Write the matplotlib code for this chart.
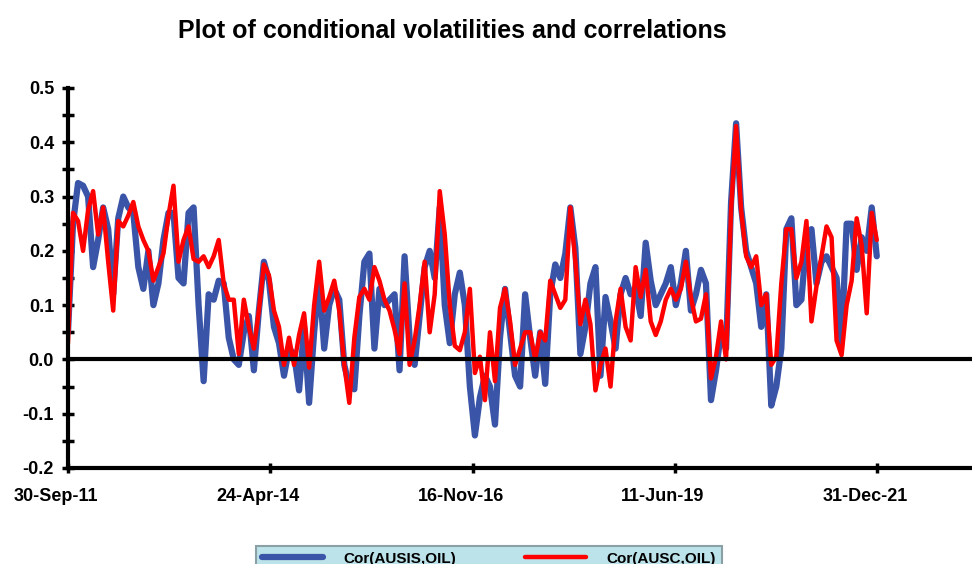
import numpy as np
import pandas as pd
import matplotlib
matplotlib.use("Agg")
import matplotlib.pyplot as plt
import matplotlib.dates as mdates
import matplotlib.transforms as mtransforms
from matplotlib.ticker import MultipleLocator

# series, evenly spaced in time from 30-Sep-11 to 31-Dec-21
cor_ausis = [
    0.05, 0.25, 0.325, 0.32, 0.30, 0.17, 0.22, 0.28, 0.24, 0.12,
    0.26, 0.30, 0.28, 0.27, 0.17, 0.13, 0.20, 0.10, 0.14, 0.22,
    0.27, 0.27, 0.15, 0.14, 0.27, 0.28, 0.10, -0.04, 0.12, 0.11,
    0.145, 0.14, 0.04, 0.00, -0.01, 0.05, 0.08, -0.02, 0.09, 0.18,
    0.145, 0.06, 0.03, -0.03, 0.02, 0.01, -0.057, 0.06, -0.08, 0.05,
    0.15, 0.02, 0.10, 0.13, 0.11, -0.01, -0.05, -0.055, 0.08, 0.18,
    0.195, 0.02, 0.13, 0.10, 0.11, 0.12, -0.02, 0.19, 0.04, -0.01,
    0.08, 0.17, 0.20, 0.15, 0.28, 0.10, 0.03, 0.12, 0.16, 0.10,
    -0.05, -0.14, -0.07, -0.03, -0.05, -0.12, 0.04, 0.13, 0.05, -0.03,
    -0.05, 0.12, 0.04, -0.03, 0.05, -0.045, 0.12, 0.175, 0.15, 0.195,
    0.28, 0.205, 0.01, 0.06, 0.14, 0.17, -0.03, 0.115, 0.07, 0.02,
    0.12, 0.15, 0.12, 0.13, 0.08, 0.215, 0.145, 0.10, 0.12, 0.14,
    0.17, 0.10, 0.14, 0.20, 0.09, 0.12, 0.165, 0.14, -0.075, -0.02,
    0.05, 0.02, 0.29, 0.435, 0.28, 0.20, 0.17, 0.14, 0.06, 0.12,
    -0.085, -0.05, 0.02, 0.24, 0.26, 0.10, 0.11, 0.22, 0.24, 0.14,
    0.18, 0.19, 0.17, 0.15, 0.03, 0.25, 0.25, 0.165, 0.225, 0.20,
    0.28, 0.19,
]
cor_ausc = [
    0.03, 0.27, 0.255, 0.20, 0.275, 0.31, 0.23, 0.28, 0.18, 0.09,
    0.255, 0.245, 0.265, 0.29, 0.245, 0.22, 0.20, 0.145, 0.17, 0.195,
    0.265, 0.32, 0.18, 0.22, 0.245, 0.185, 0.18, 0.19, 0.17, 0.19,
    0.22, 0.14, 0.11, 0.11, 0.01, 0.11, 0.06, 0.02, 0.09, 0.175,
    0.155, 0.09, 0.06, -0.01, 0.04, -0.01, 0.045, 0.085, -0.015, 0.10,
    0.18, 0.09, 0.115, 0.145, 0.09, -0.01, -0.08, 0.04, 0.115, 0.13,
    0.11, 0.17, 0.145, 0.11, 0.09, 0.055, 0.01, 0.14, -0.01, 0.035,
    0.10, 0.18, 0.05, 0.12, 0.31, 0.23, 0.10, 0.025, 0.017, 0.05,
    0.13, -0.025, 0.005, -0.075, 0.05, -0.04, 0.095, 0.13, 0.07, -0.01,
    0.02, 0.05, 0.05, 0.0, 0.05, 0.035, 0.145, 0.12, 0.095, 0.11,
    0.28, 0.18, 0.065, 0.11, 0.065, -0.057, -0.01, 0.02, -0.05, 0.07,
    0.13, 0.06, 0.035, 0.17, 0.115, 0.165, 0.07, 0.045, 0.07, 0.11,
    0.13, 0.11, 0.13, 0.18, 0.115, 0.07, 0.075, 0.12, -0.035, 0.005,
    0.07, 0.0, 0.275, 0.43, 0.275, 0.19, 0.17, 0.19, 0.10, 0.12,
    -0.01, 0.005, 0.14, 0.24, 0.24, 0.15, 0.18, 0.255, 0.07, 0.135,
    0.19, 0.245, 0.225, 0.035, 0.008, 0.10, 0.145, 0.26, 0.21, 0.085,
    0.27, 0.22,
]
tick_dates = ["2011-09-30", "2014-04-24", "2016-11-16", "2019-06-11", "2021-12-31"]
labels = ["Cor(AUSIS,OIL)", "Cor(AUSC,OIL)"]

start = pd.Timestamp("2011-09-30")
end = pd.Timestamp("2021-12-31")
d1 = pd.date_range(start, end, periods=len(cor_ausis))
d2 = pd.date_range(start, end, periods=len(cor_ausc))

plt.rcParams["font.family"] = ["Liberation Sans", "DejaVu Sans"]
plt.rcParams["font.weight"] = "bold"

fig = plt.figure(figsize=(9.72, 5.64), dpi=100)
ax = fig.add_axes([68 / 972, 1 - 468 / 564, 904 / 972, 380 / 564])

l1, = ax.plot(d1, cor_ausis, color="#3a55a8", lw=4.5, solid_capstyle="round",
              solid_joinstyle="round", label=labels[0])
l2, = ax.plot(d2, cor_ausc, color="#ff0000", lw=3.2, solid_capstyle="round",
              solid_joinstyle="round", label=labels[1])
ax.axhline(0, color="black", lw=3, zorder=5)

ax.set_ylim(-0.2, 0.5)
ax.set_xlim(start, start + pd.Timedelta(days=4186))
ax.yaxis.set_major_locator(MultipleLocator(0.1))
ax.yaxis.set_minor_locator(MultipleLocator(0.05))
ax.yaxis.set_major_formatter(matplotlib.ticker.FormatStrFormatter("%.1f"))
ax.set_xticks(pd.to_datetime(tick_dates))
ax.xaxis.set_major_formatter(mdates.DateFormatter("%d-%b-%y"))

for s in ["top", "right"]:
    ax.spines[s].set_visible(False)
for s in ["left", "bottom"]:
    ax.spines[s].set_linewidth(3)
ax.tick_params(axis="y", which="both", direction="inout", length=8, width=2.5,
               labelsize=13, pad=6)
ax.tick_params(axis="x", which="major", direction="inout", length=7, width=2.5,
               labelsize=13, pad=11)

# date labels sit a little left of their ticks in the original
shift = mtransforms.ScaledTranslation(-12 / 100, 0, fig.dpi_scale_trans)
for lab in ax.get_xticklabels():
    lab.set_transform(lab.get_transform() + shift)

fig.text(0.465, 0.945, "Plot of conditional volatilities and correlations",
         ha="center", va="center", fontsize=18, fontweight="bold",
         family=["Liberation Sans Narrow", "Liberation Sans"])

leg = fig.legend(handles=[l1, l2], loc="upper left",
                 bbox_to_anchor=(248 / 972, 1 - 538 / 564), ncol=2,
                 handlelength=4.0, handletextpad=1.35,
                 columnspacing=4.5, borderpad=0.4, fancybox=False,
                 prop={"weight": "bold", "size": 11})
leg.get_frame().set_facecolor("#bde3ea")
leg.get_frame().set_edgecolor("#8aa0a4")
leg.get_frame().set_alpha(1)
leg.get_frame().set_linewidth(1.5)

fig.savefig("out.png", dpi=100)
